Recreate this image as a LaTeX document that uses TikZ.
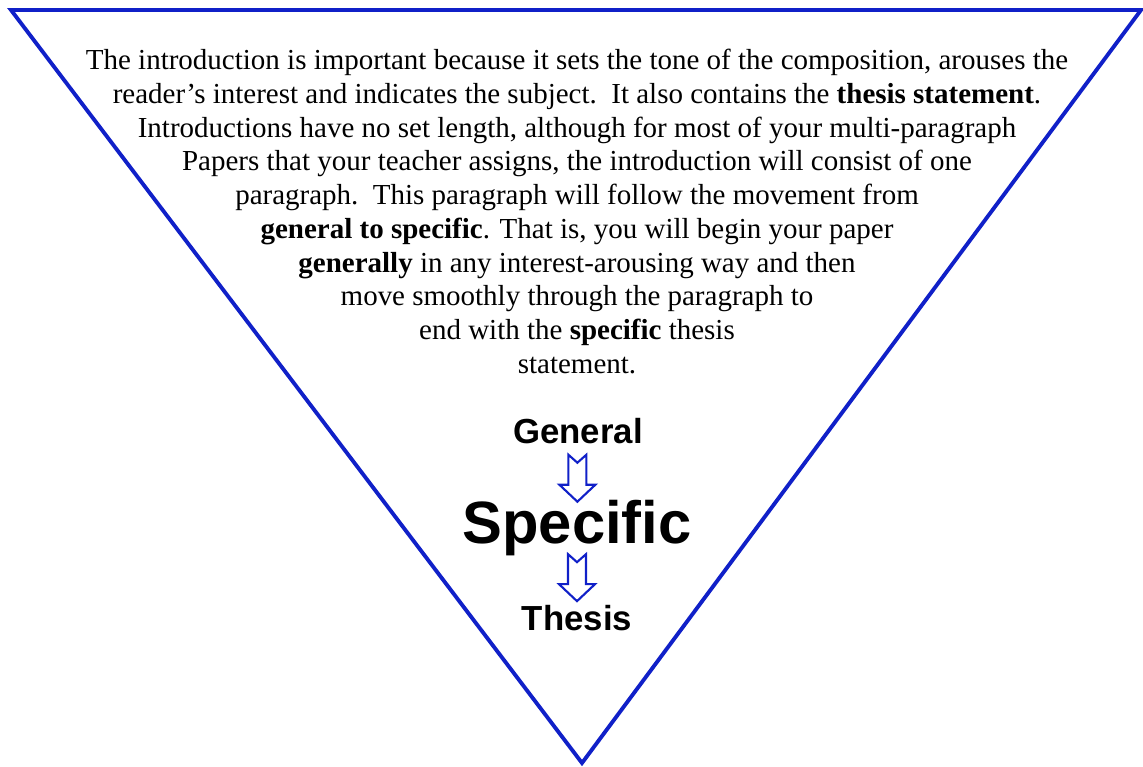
\documentclass[tikz,border=0pt]{standalone}
\usepackage{fontspec}
\setmainfont{Liberation Serif}
\setsansfont{Liberation Sans}
\usetikzlibrary{calc}
\definecolor{triblue}{RGB}{16,32,200}

\tikzset{
  funnel/.style={triblue, line width=2.2pt, line join=miter},
  flow/.style={triblue, line width=1.2pt, fill=white},
  word/.style={font=\sffamily\bfseries, inner sep=0pt, anchor=base},
  hollowdown/.pic={
    \draw[flow] (-9,-23.5) -- (0,-15.5) -- (9,-23.5) -- (9,6.5) -- (18,6.5)
      -- (0,23.5) -- (-18,6.5) -- (-9,6.5) -- cycle;
  }
}

\begin{document}
\begin{tikzpicture}[x=0.02cm, y=-0.02cm]
\useasboundingbox (0,0) rectangle (1143,767);
%% the funnel
\draw[funnel] (11,10) -- (1141,10) -- (582,763) -- cycle;
%% paragraph
\node[align=center, inner sep=0pt, anchor=north,
      font=\fontsize{16.5}{19.2}\selectfont] (intro) at (577,49)
  {The introduction is important because it sets the tone of the composition, arouses the\\
   reader's interest and indicates the subject.\ \ It also contains the \textbf{thesis statement}.\\
   Introductions have no set length, although for most of your multi-paragraph\\
   Papers that your teacher assigns, the introduction will consist of one\\
   paragraph.\ \ This paragraph will follow the movement from\\
   \textbf{general to specific}. That is, you will begin your paper\\
   \textbf{generally} in any interest-arousing way and then\\
   move smoothly through the paragraph to\\
   end with the \textbf{specific} thesis\\
   statement.};
%%% general to specific to thesis
\node[word, font=\sffamily\bfseries\fontsize{19.8}{22}\selectfont] (gen) at (578,443) {General};
\node[word, font=\sffamily\bfseries\fontsize{34}{38}\selectfont] (spec) at (577,543) {Specific};
\node[word, font=\sffamily\bfseries\fontsize{19.8}{22}\selectfont] (thesis) at (577,630) {Thesis};
% arrows
\pic at ($(gen.south)!0.62!(spec.north)$) {hollowdown};
\pic at ($(spec.south)!0.45!(thesis.north)$) {hollowdown};
\end{tikzpicture}
\end{document}
